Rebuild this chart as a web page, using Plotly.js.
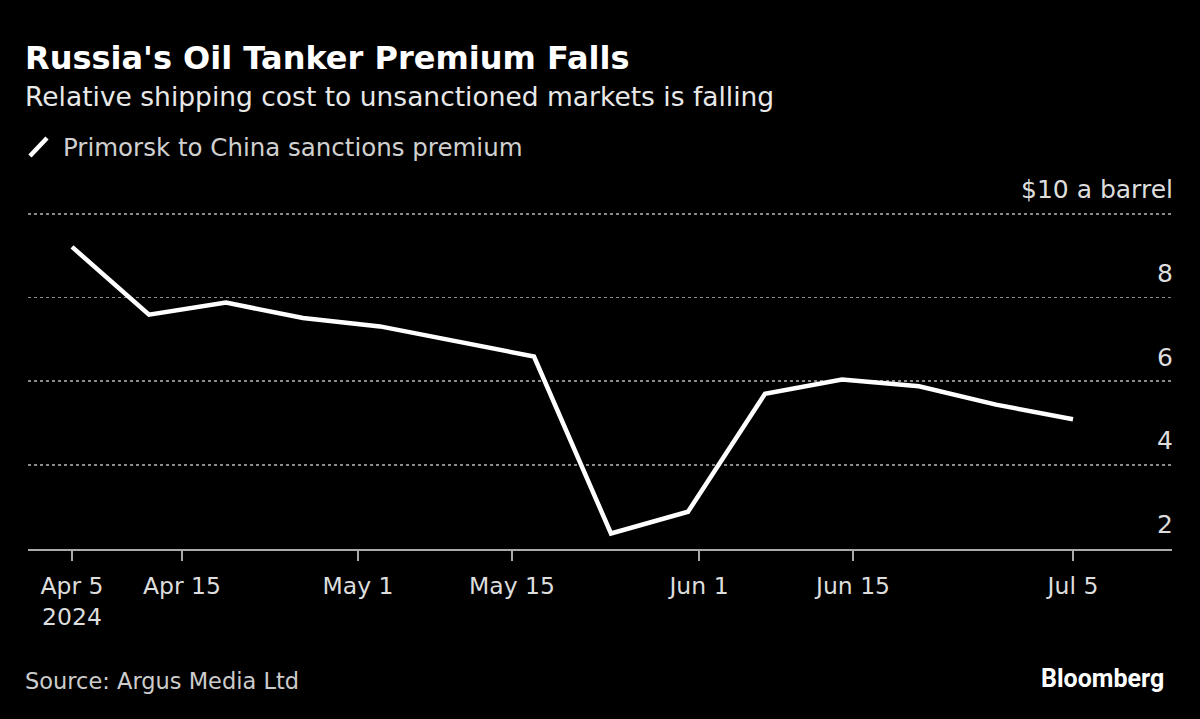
<!DOCTYPE html>
<html>
<head>
<meta charset="utf-8">
<script src="https://cdn.plot.ly/plotly-3.0.1.min.js"></script>
<style>
  html, body { margin: 0; padding: 0; background: #000; }
  #graph { width: 1200px; height: 719px; }
</style>
</head>
<body>
<div id="graph"></div>
<script>
// weekly readings, $ per barrel
const dates = ["2024-04-05", "2024-04-12", "2024-04-19", "2024-04-26", "2024-05-03", "2024-05-10",
  "2024-05-17", "2024-05-24", "2024-05-31", "2024-06-07", "2024-06-14", "2024-06-21",
  "2024-06-28", "2024-07-05"];
const premium = [9.21, 7.59, 7.88, 7.51, 7.31, 6.94, 6.59, 2.36, 2.88, 5.70, 6.04, 5.88, 5.44, 5.09];

const xTickVals = ["2024-04-05", "2024-04-15", "2024-05-01", "2024-05-15", "2024-06-01", "2024-06-15", "2024-07-05"];
const xTickText = ["Apr 5<br>2024", "Apr 15", "May 1", "May 15", "Jun 1", "Jun 15", "Jul 5"];
const yTickVals = [2, 4, 6, 8, 10];
const yTickText = ["2", "4", "6", "8", "$10 a barrel"];

const font = "'DejaVu Sans', sans-serif";

const trace = {
  x: dates,
  y: premium,
  type: "scatter",
  mode: "lines",
  line: { color: "#ffffff", width: 4.5 },
  hoverinfo: "skip",
  showlegend: false
};

// y labels sit above their gridlines, right aligned at the plot edge
const yLabels = yTickVals.map((v, i) => ({
  text: yTickText[i], xref: "paper", yref: "y", x: 1, y: v,
  xanchor: "right", yanchor: "middle", xshift: 3, yshift: 24, showarrow: false,
  font: { family: font, size: 25, color: "#dddddd" }
}));

// plot area spans 172..549 px vertically, 28..1172 px horizontally
const layout = {
  width: 1200,
  height: 719,
  paper_bgcolor: "#000",
  plot_bgcolor: "#000",
  margin: { l: 28, r: 28, t: 172, b: 170 },
  font: { family: font, color: "#dddddd", size: 23 },
  xaxis: {
    type: "date",
    range: ["2024-04-01", "2024-07-14"],
    tickvals: xTickVals,
    ticktext: xTickText,
    ticks: "outside",
    ticklen: 10,
    tickcolor: "#aaaaaa",
    tickwidth: 1.5,
    ticklabelstandoff: 5,
    showline: true,
    linecolor: "#aaaaaa",
    linewidth: 2,
    showgrid: false,
    zeroline: false,
    tickfont: { family: font, size: 23.5, color: "#dddddd" }
  },
  yaxis: {
    side: "right",
    range: [1.99, 11],
    tickvals: yTickVals,
    showticklabels: false,
    ticks: "",
    showgrid: true,
    gridcolor: "#8a8a8a",
    griddash: "dot",
    gridwidth: 1.5,
    zeroline: false,
    showline: false
  },
  shapes: [
    { type: "line", xref: "paper", yref: "paper", x0: 0.0017, x1: 0.0166, y0: 1.0424, y1: 1.0902,
      line: { color: "#ffffff", width: 4.5 } }
  ],
  annotations: [
    { text: "<b>Russia's Oil Tanker Premium Falls</b>", xref: "paper", yref: "paper",
      x: -0.004, y: 1.3019, xanchor: "left", yanchor: "middle", showarrow: false,
      font: { family: font, size: 32, color: "#ffffff" } },
    { text: "Relative shipping cost to unsanctioned markets is falling", xref: "paper", yref: "paper",
      x: -0.004, y: 1.1996, xanchor: "left", yanchor: "middle", showarrow: false,
      font: { family: font, size: 26.5, color: "#e8e8e8" } },
    { text: "Primorsk to China sanctions premium", xref: "paper", yref: "paper",
      x: 0.0288, y: 1.0637, xanchor: "left", yanchor: "middle", showarrow: false,
      font: { family: font, size: 24.5, color: "#d0d0d0" } },
    { text: "Source: Argus Media Ltd", xref: "paper", yref: "paper",
      x: -0.004, y: -0.3493, xanchor: "left", yanchor: "middle", showarrow: false,
      font: { family: font, size: 22.5, color: "#cccccc" } },
    { text: "<b>Bloomberg</b>", xref: "paper", yref: "paper",
      x: 0.995, y: -0.3438, xanchor: "right", yanchor: "middle", showarrow: false,
      font: { family: "Roboto, sans-serif", size: 25, color: "#ffffff" } }
  ].concat(yLabels)
};

Plotly.newPlot("graph", [trace], layout, { displayModeBar: false, staticPlot: true });
</script>
</body>
</html>
